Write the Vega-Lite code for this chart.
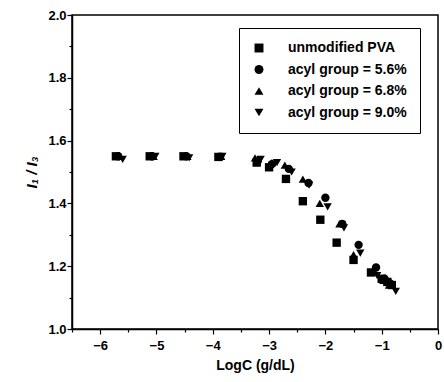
{
  "$schema": "https://vega.github.io/schema/vega-lite/v6.json",
  "width": 366,
  "height": 314,
  "autosize": {"type": "none"},
  "padding": {"left": 72, "top": 15, "right": 6, "bottom": 53},
  "background": "white",
  "config": {
    "view": {"stroke": "black", "strokeWidth": 1.5},
    "font": "Liberation Sans",
    "axis": {"grid": false, "domainColor": "black", "domainWidth": 1.5, "tickColor": "black", "tickWidth": 1.2, "labelColor": "black", "titleColor": "black", "labelFont": "Liberation Sans", "titleFont": "Liberation Sans"}
  },
  "data": {"values": [
    {"logC": -5.72, "ratio": 1.55, "series": "unmodified PVA"},
    {"logC": -5.12, "ratio": 1.55, "series": "unmodified PVA"},
    {"logC": -4.52, "ratio": 1.55, "series": "unmodified PVA"},
    {"logC": -3.9, "ratio": 1.548, "series": "unmodified PVA"},
    {"logC": -3.22, "ratio": 1.53, "series": "unmodified PVA"},
    {"logC": -3.0, "ratio": 1.515, "series": "unmodified PVA"},
    {"logC": -2.7, "ratio": 1.478, "series": "unmodified PVA"},
    {"logC": -2.4, "ratio": 1.407, "series": "unmodified PVA"},
    {"logC": -2.09, "ratio": 1.348, "series": "unmodified PVA"},
    {"logC": -1.8, "ratio": 1.275, "series": "unmodified PVA"},
    {"logC": -1.5, "ratio": 1.22, "series": "unmodified PVA"},
    {"logC": -1.19, "ratio": 1.18, "series": "unmodified PVA"},
    {"logC": -1.0, "ratio": 1.16, "series": "unmodified PVA"},
    {"logC": -0.9, "ratio": 1.15, "series": "unmodified PVA"},
    {"logC": -0.82, "ratio": 1.14, "series": "unmodified PVA"},
    {"logC": -5.68, "ratio": 1.55, "series": "acyl group = 5.6%"},
    {"logC": -5.08, "ratio": 1.55, "series": "acyl group = 5.6%"},
    {"logC": -4.47, "ratio": 1.55, "series": "acyl group = 5.6%"},
    {"logC": -3.87, "ratio": 1.548, "series": "acyl group = 5.6%"},
    {"logC": -3.2, "ratio": 1.535, "series": "acyl group = 5.6%"},
    {"logC": -2.95, "ratio": 1.525, "series": "acyl group = 5.6%"},
    {"logC": -2.65, "ratio": 1.51, "series": "acyl group = 5.6%"},
    {"logC": -2.3, "ratio": 1.465, "series": "acyl group = 5.6%"},
    {"logC": -2.0, "ratio": 1.418, "series": "acyl group = 5.6%"},
    {"logC": -1.7, "ratio": 1.335, "series": "acyl group = 5.6%"},
    {"logC": -1.41, "ratio": 1.268, "series": "acyl group = 5.6%"},
    {"logC": -1.1, "ratio": 1.196, "series": "acyl group = 5.6%"},
    {"logC": -0.95, "ratio": 1.16, "series": "acyl group = 5.6%"},
    {"logC": -0.85, "ratio": 1.145, "series": "acyl group = 5.6%"},
    {"logC": -5.65, "ratio": 1.55, "series": "acyl group = 6.8%"},
    {"logC": -5.05, "ratio": 1.55, "series": "acyl group = 6.8%"},
    {"logC": -4.45, "ratio": 1.55, "series": "acyl group = 6.8%"},
    {"logC": -3.85, "ratio": 1.55, "series": "acyl group = 6.8%"},
    {"logC": -3.25, "ratio": 1.545, "series": "acyl group = 6.8%"},
    {"logC": -2.95, "ratio": 1.53, "series": "acyl group = 6.8%"},
    {"logC": -2.72, "ratio": 1.522, "series": "acyl group = 6.8%"},
    {"logC": -2.4, "ratio": 1.477, "series": "acyl group = 6.8%"},
    {"logC": -2.1, "ratio": 1.4, "series": "acyl group = 6.8%"},
    {"logC": -1.75, "ratio": 1.335, "series": "acyl group = 6.8%"},
    {"logC": -1.5, "ratio": 1.237, "series": "acyl group = 6.8%"},
    {"logC": -1.15, "ratio": 1.19, "series": "acyl group = 6.8%"},
    {"logC": -0.97, "ratio": 1.155, "series": "acyl group = 6.8%"},
    {"logC": -0.87, "ratio": 1.14, "series": "acyl group = 6.8%"},
    {"logC": -5.6, "ratio": 1.54, "series": "acyl group = 9.0%"},
    {"logC": -5.02, "ratio": 1.55, "series": "acyl group = 9.0%"},
    {"logC": -4.42, "ratio": 1.545, "series": "acyl group = 9.0%"},
    {"logC": -3.83, "ratio": 1.55, "series": "acyl group = 9.0%"},
    {"logC": -3.15, "ratio": 1.54, "series": "acyl group = 9.0%"},
    {"logC": -2.86, "ratio": 1.53, "series": "acyl group = 9.0%"},
    {"logC": -2.6, "ratio": 1.5, "series": "acyl group = 9.0%"},
    {"logC": -2.29, "ratio": 1.458, "series": "acyl group = 9.0%"},
    {"logC": -1.96, "ratio": 1.389, "series": "acyl group = 9.0%"},
    {"logC": -1.67, "ratio": 1.322, "series": "acyl group = 9.0%"},
    {"logC": -1.38, "ratio": 1.242, "series": "acyl group = 9.0%"},
    {"logC": -1.08, "ratio": 1.17, "series": "acyl group = 9.0%"},
    {"logC": -0.92, "ratio": 1.145, "series": "acyl group = 9.0%"},
    {"logC": -0.75, "ratio": 1.12, "series": "acyl group = 9.0%"}
  ]},
  "layer": [
    {
      "mark": {"type": "point", "filled": true, "size": 70, "opacity": 1},
      "encoding": {
        "x": {"field": "logC", "type": "quantitative", "scale": {"domain": [-6.5, 0], "nice": false, "zero": false},
              "axis": {"orient": "bottom", "title": "LogC (g/dL)", "values": [-6, -5, -4, -3, -2, -1, 0], "format": "d", "tickSize": 5, "labelFontSize": 13, "labelFontWeight": "bold", "labelPadding": 5, "titleFontSize": 14, "titleFontWeight": "bold", "titlePadding": 6, "labelFlush": false}},
        "y": {"field": "ratio", "type": "quantitative", "scale": {"domain": [1.0, 2.0], "nice": false, "zero": false},
              "axis": {"orient": "left", "title": "I₁ / I₃", "values": [1.0, 1.2, 1.4, 1.6, 1.8, 2.0], "format": ".1f", "tickSize": 5, "labelFontSize": 13, "labelFontWeight": "bold", "labelPadding": 1, "titleFontSize": 15, "titleFontWeight": "bold", "titleFontStyle": "italic", "titlePadding": 8}},
        "shape": {"field": "series", "type": "nominal",
                  "scale": {"domain": ["unmodified PVA", "acyl group = 5.6%", "acyl group = 6.8%", "acyl group = 9.0%"], "range": ["square", "circle", "triangle-up", "triangle-down"]},
                  "legend": {"title": null, "orient": "none", "legendX": 167, "legendY": 13, "padding": 13, "strokeColor": "black", "fillColor": "white", "labelFontSize": 14, "labelFontWeight": "bold", "labelColor": "black", "symbolSize": 80, "symbolFillColor": "black", "symbolStrokeColor": "black", "symbolStrokeWidth": 0, "labelOffset": 22, "rowPadding": 7.5, "labelLimit": 300}},
        "color": {"value": "black"}
      }
    },
    {
      "mark": {"type": "point", "opacity": 0},
      "encoding": {
        "x": {"field": "logC", "type": "quantitative",
              "axis": {"orient": "bottom", "title": null, "labels": false, "domain": false, "values": [-6.5, -5.5, -4.5, -3.5, -2.5, -1.5, -0.5], "tickSize": 3}},
        "y": {"field": "ratio", "type": "quantitative",
              "axis": {"orient": "left", "title": null, "labels": false, "domain": false, "values": [1.1, 1.3, 1.5, 1.7, 1.9], "tickSize": 3}}
      }
    }
  ],
  "resolve": {"axis": {"x": "independent", "y": "independent"}}
}
